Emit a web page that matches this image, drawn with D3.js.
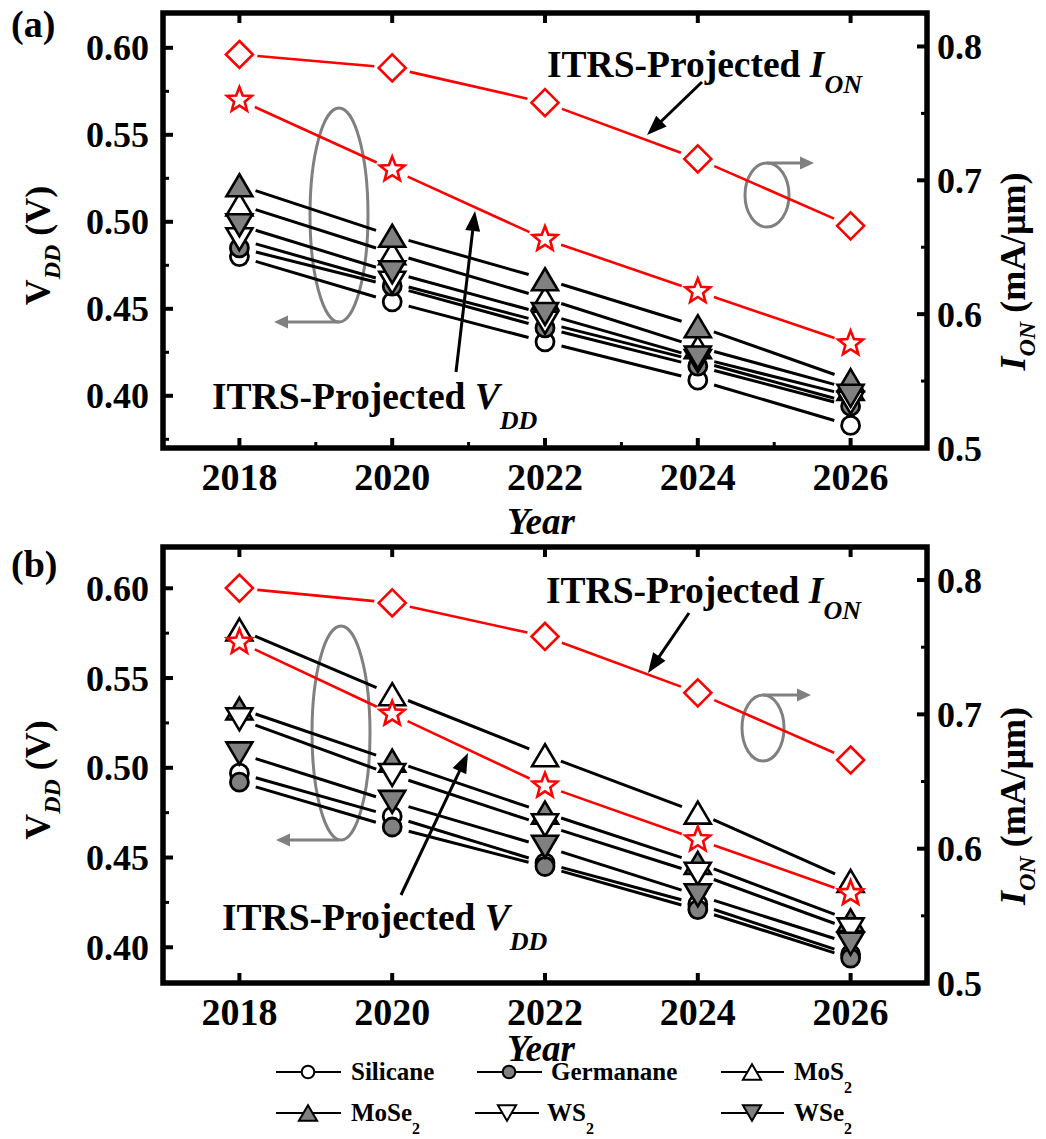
<!DOCTYPE html>
<html><head><meta charset="utf-8">
<script src="https://cdn.jsdelivr.net/npm/d3@7"></script>
<style>
body{margin:0;background:#fff}
svg{display:block}
svg text{font-family:"Liberation Serif","Times New Roman",Times,Tinos,"DejaVu Serif",serif;font-weight:bold;fill:#000}
</style>
</head><body>
<svg id="c" width="1046" height="1139" font-family="Liberation Serif, Times New Roman, DejaVu Serif, serif"></svg>
<script>
// ---------------- data ----------------
const years = [2018, 2020, 2022, 2024, 2026];
const xTickValues = [2018, 2020, 2022, 2024, 2026];
const xMinorValues = [2019, 2021, 2023, 2025];
const vddTickValues = [0.40, 0.45, 0.50, 0.55, 0.60];
const vddMinorValues = [0.375, 0.425, 0.475, 0.525, 0.575];
const ionTickValues = [0.5, 0.6, 0.7, 0.8];
const ionMinorValues = [0.55, 0.65, 0.75];
const materials = ["Silicane", "Germanane", "MoS2", "MoSe2", "WS2", "WSe2"];

// panel (a) V_DD (V)
const silicaneA  = [0.480, 0.454, 0.431, 0.409, 0.383];
const germananeA = [0.485, 0.463, 0.439, 0.417, 0.394];
const mos2A      = [0.510, 0.482, 0.456, 0.428, 0.404];
const mose2A     = [0.521, 0.492, 0.467, 0.440, 0.409];
const ws2A       = [0.490, 0.465, 0.442, 0.420, 0.396];
const wse2A      = [0.498, 0.471, 0.447, 0.422, 0.400];
const itrsVddA   = [0.570, 0.530, 0.490, 0.460, 0.430];
const itrsIonA   = [0.794, 0.784, 0.758, 0.716, 0.666];

// panel (b) V_DD (V)
const silicaneB  = [0.497, 0.473, 0.447, 0.424, 0.396];
const germananeB = [0.492, 0.467, 0.445, 0.421, 0.394];
const mos2B      = [0.577, 0.541, 0.507, 0.475, 0.437];
const mose2B     = [0.533, 0.504, 0.475, 0.447, 0.415];
const ws2B       = [0.527, 0.496, 0.468, 0.441, 0.410];
const wse2B      = [0.508, 0.481, 0.456, 0.429, 0.402];
const itrsVddB   = [0.570, 0.530, 0.490, 0.460, 0.430];
const itrsIonB   = [0.794, 0.783, 0.758, 0.716, 0.666];

// ---------------- styles ----------------
const FONT = '"Liberation Serif","Times New Roman",Times,Tinos,"DejaVu Serif",serif';
const GRAY = "#808080";
const RED = "#ff0000";
const matStyle = {
  Silicane:  {shape:"circle", fill:"#fff"},
  Germanane: {shape:"circle", fill:GRAY},
  MoS2:      {shape:"up",     fill:"#fff"},
  MoSe2:     {shape:"up",     fill:GRAY},
  WS2:       {shape:"down",   fill:"#fff"},
  WSe2:      {shape:"down",   fill:GRAY}
};
const legendLabels = {
  Silicane:["Silicane",""], Germanane:["Germanane",""], MoS2:["MoS","2"],
  MoSe2:["MoSe","2"], WS2:["WS","2"], WSe2:["WSe","2"]
};

const svg = d3.select("#c");
const x = d3.scaleLinear().domain([2017, 2027]).range([163, 927]);

function txt(g) {
  return g.append("text").style("font-family", FONT).style("font-weight", "bold");
}

function shapePath(shape, s) {
  if (shape === "up") {
    const w = 13*s, h = 11*s;
    return `M0,${-h}L${w},${h}L${-w},${h}Z`;
  }
  if (shape === "down") {
    const w = 13*s, h = 11*s;
    return `M0,${h}L${w},${-h}L${-w},${-h}Z`;
  }
  if (shape === "diamond") {
    const r = 13.5*s;
    return `M0,${-r}L${r},0L0,${r}L${-r},0Z`;
  }
  if (shape === "star") {
    const R = 13*s, r = 5.6*s;
    let d = "";
    for (let k = 0; k < 10; k++) {
      const a = -Math.PI/2 + k*Math.PI/5;
      const rr = k % 2 === 0 ? R : r;
      d += (k === 0 ? "M" : "L") + (rr*Math.cos(a)).toFixed(2) + "," + (rr*Math.sin(a)).toFixed(2);
    }
    return d + "Z";
  }
  const r = 9*s;
  return `M${r},0A${r},${r} 0 1,1 ${-r},0A${r},${r} 0 1,1 ${r},0Z`;
}

function drawSeries(g, vals, yScale, shape, fill, stroke, lw, gap) {
  const pts = vals.map((v,i) => [x(years[i]), yScale(v)]);
  for (let i = 0; i < pts.length-1; i++) {
    const [x1,y1] = pts[i], [x2,y2] = pts[i+1];
    const L = Math.hypot(x2-x1, y2-y1), ux = (x2-x1)/L, uy = (y2-y1)/L;
    g.append("line")
      .attr("x1", x1+ux*gap).attr("y1", y1+uy*gap)
      .attr("x2", x2-ux*gap).attr("y2", y2-uy*gap)
      .attr("stroke", stroke).attr("stroke-width", lw);
  }
  g.selectAll(null).data(pts).enter().append("path")
    .attr("transform", d => `translate(${d[0]},${d[1]})`)
    .attr("d", shapePath(shape, 1))
    .attr("fill", fill).attr("stroke", stroke).attr("stroke-width", shape==="circle"?2.8:2.6)
    .attr("stroke-linejoin", "miter");
}

function arrow(g, x1, y1, x2, y2, color, lw, hl, hw) {
  const L = Math.hypot(x2-x1, y2-y1), ux = (x2-x1)/L, uy = (y2-y1)/L;
  const bx = x2-ux*hl, by = y2-uy*hl;
  g.append("line").attr("x1",x1).attr("y1",y1).attr("x2",bx+ux*2).attr("y2",by+uy*2)
    .attr("stroke",color).attr("stroke-width",lw);
  g.append("path")
    .attr("d",`M${x2},${y2}L${bx-uy*hw/2},${by+ux*hw/2}L${bx+uy*hw/2},${by-ux*hw/2}Z`)
    .attr("fill",color);
}

function subText(g, xx, yy, parts, size, anchor, rotate) {
  const t = txt(g).attr("font-size", size).attr("text-anchor", anchor||"start");
  if (rotate) t.attr("transform", `translate(${xx},${yy}) rotate(-90)`);
  else t.attr("x", xx).attr("y", yy);
  let shift = 0;
  parts.forEach(p => {
    const ts = t.append("tspan").text(p.t);
    if (p.italic) ts.style("font-style","italic");
    if (p.size) ts.attr("font-size", p.size);
    const want = p.dy || 0;
    if (want !== shift) { ts.attr("dy", want - shift); shift = want; }
  });
  return t;
}

const panels = [
  {label:"(a)", labelY:37, top:13, bottom:448, vddDomain:[0.370,0.620], ionDomain:[0.5,0.825],
   data:{Silicane:silicaneA, Germanane:germananeA, MoS2:mos2A, MoSe2:mose2A, WS2:ws2A, WSe2:wse2A},
   vdd:itrsVddA, ion:itrsIonA, minorX:true,
   ionText:[547,77], vddText:[212,409],
   ionArrow:[702,82,647,135], vddArrow:[456,372,475,211],
   lEll:[339,215,29,107], lArrow:[339,322,274],
   rEll:[767,195,22,32], rArrow:[767,163,814],
   yearY:534},
  {label:"(b)", labelY:577, top:547, bottom:983, vddDomain:[0.3801,0.623], ionDomain:[0.5,0.8246],
   data:{Silicane:silicaneB, Germanane:germananeB, MoS2:mos2B, MoSe2:mose2B, WS2:ws2B, WSe2:wse2B},
   vdd:itrsVddB, ion:itrsIonB, minorX:false,
   ionText:[546,603], vddText:[222,930],
   ionArrow:[689,613,648,673], vddArrow:[401,895,468,753],
   lEll:[341,733,29,107], lArrow:[339,840,276],
   rEll:[763,728,21,33], rArrow:[763,695,811],
   yearY:1061}
];

panels.forEach(P => {
  const g = svg.append("g");
  const yL = d3.scaleLinear().domain(P.vddDomain).range([P.bottom, P.top]);
  const yR = d3.scaleLinear().domain(P.ionDomain).range([P.bottom, P.top]);
  const L = 163, R = 927;

  // ticks
  const tk = g.append("g").attr("stroke","#000");
  xTickValues.forEach(v => {
    tk.append("line").attr("x1",x(v)).attr("x2",x(v)).attr("y1",P.bottom).attr("y2",P.bottom-10).attr("stroke-width",4);
    tk.append("line").attr("x1",x(v)).attr("x2",x(v)).attr("y1",P.top).attr("y2",P.top+10).attr("stroke-width",4);
  });
  if (P.minorX) xMinorValues.forEach(v => {
    tk.append("line").attr("x1",x(v)).attr("x2",x(v)).attr("y1",P.bottom).attr("y2",P.bottom-6).attr("stroke-width",3);
  });
  vddTickValues.forEach(v => {
    tk.append("line").attr("x1",L).attr("x2",L+10).attr("y1",yL(v)).attr("y2",yL(v)).attr("stroke-width",4);
  });
  vddMinorValues.filter(v => v > P.vddDomain[0] && v < P.vddDomain[1]).forEach(v => {
    tk.append("line").attr("x1",L).attr("x2",L+6).attr("y1",yL(v)).attr("y2",yL(v)).attr("stroke-width",3);
  });
  ionTickValues.forEach(v => {
    tk.append("line").attr("x1",R).attr("x2",R-10).attr("y1",yR(v)).attr("y2",yR(v)).attr("stroke-width",4);
  });
  ionMinorValues.forEach(v => {
    tk.append("line").attr("x1",R).attr("x2",R-6).attr("y1",yR(v)).attr("y2",yR(v)).attr("stroke-width",3);
  });

  // tick labels
  xTickValues.forEach(v => txt(g).attr("x",x(v)).attr("y",P.bottom+42)
    .attr("text-anchor","middle").attr("font-size",38).text(v));
  vddTickValues.forEach(v => txt(g).attr("x",149).attr("y",yL(v)).attr("dy","0.35em")
    .attr("text-anchor","end").attr("font-size",36).text(d3.format(".2f")(v)));
  ionTickValues.forEach(v => txt(g).attr("x",937).attr("y",yR(v)).attr("dy","0.35em")
    .attr("text-anchor","start").attr("font-size",36).text(d3.format(".1f")(v)));

  // axis titles
  subText(g, 50, (P.top+P.bottom)/2+15, [{t:"V"},{t:"DD",italic:true,size:24,dy:10},{t:" (V)",dy:0}], 36, "middle", true);
  subText(g, 1025, (P.top+P.bottom)/2+41, [{t:"I",italic:true},{t:"ON",italic:true,size:24,dy:10},{t:" (mA/μm)",dy:0}], 36, "middle", true);
  txt(g).attr("x",541).attr("y",P.yearY).attr("text-anchor","middle")
    .attr("font-size",37).style("font-style","italic").text("Year");
  txt(g).attr("x",11).attr("y",P.labelY).attr("font-size",38).text(P.label);

  // gray annotations
  const ga = g.append("g");
  ga.append("ellipse").attr("cx",P.lEll[0]).attr("cy",P.lEll[1]).attr("rx",P.lEll[2]).attr("ry",P.lEll[3])
    .attr("fill","none").attr("stroke",GRAY).attr("stroke-width",3);
  arrow(ga, P.lArrow[0], P.lArrow[1], P.lArrow[2], P.lArrow[1], GRAY, 3, 14, 13);
  ga.append("ellipse").attr("cx",P.rEll[0]).attr("cy",P.rEll[1]).attr("rx",P.rEll[2]).attr("ry",P.rEll[3])
    .attr("fill","none").attr("stroke",GRAY).attr("stroke-width",3);
  arrow(ga, P.rArrow[0], P.rArrow[1], P.rArrow[2], P.rArrow[1], GRAY, 3, 14, 13);

  // data series
  materials.forEach(m => {
    drawSeries(g, P.data[m], yL, matStyle[m].shape, matStyle[m].fill, "#000", 3, 17);
  });
  drawSeries(g, P.vdd, yL, "star", "#fff", RED, 2.6, 17);
  drawSeries(g, P.ion, yR, "diamond", "#fff", RED, 2.6, 18);

  // black arrows and texts
  arrow(g, P.ionArrow[0], P.ionArrow[1], P.ionArrow[2], P.ionArrow[3], "#000", 3, 20, 15);
  arrow(g, P.vddArrow[0], P.vddArrow[1], P.vddArrow[2], P.vddArrow[3], "#000", 3, 20, 15);
  subText(g, P.ionText[0], P.ionText[1], [{t:"ITRS-Projected "},{t:"I",italic:true},{t:"ON",italic:true,size:26,dy:16}], 37.5, "start");
  subText(g, P.vddText[0], P.vddText[1], [{t:"ITRS-Projected "},{t:"V",italic:true},{t:"DD",italic:true,size:26,dy:20}], 37.5, "start");

  // frame
  g.append("rect").attr("x",L).attr("y",P.top).attr("width",R-L).attr("height",P.bottom-P.top)
    .attr("fill","none").attr("stroke","#000").attr("stroke-width",5.5);
});

// ---------------- legend ----------------
const legendLayout = [
  {m:"Silicane",  x0:276, cx:308, x1:341, tx:351, y:1072},
  {m:"Germanane", x0:477, cx:509, x1:542, tx:551, y:1072},
  {m:"MoS2",      x0:721, cx:752, x1:784, tx:794, y:1072},
  {m:"MoSe2",     x0:276, cx:308, x1:341, tx:351, y:1113},
  {m:"WS2",       x0:475, cx:507, x1:539, tx:547, y:1113},
  {m:"WSe2",      x0:721, cx:752, x1:784, tx:794, y:1113}
];
const lg = svg.append("g");
legendLayout.forEach(it => {
  lg.append("line").attr("x1",it.x0).attr("x2",it.x1).attr("y1",it.y).attr("y2",it.y)
    .attr("stroke","#000").attr("stroke-width",2.2);
  lg.append("path").attr("transform",`translate(${it.cx},${it.y})`)
    .attr("d", shapePath(matStyle[it.m].shape, 0.7))
    .attr("fill", matStyle[it.m].fill).attr("stroke","#000").attr("stroke-width",2);
  const lab = legendLabels[it.m];
  const t = txt(lg).attr("x",it.tx).attr("y",it.y+8).attr("font-size",25);
  t.append("tspan").text(lab[0]);
  if (lab[1]) t.append("tspan").attr("font-size",16).attr("dy",13).text(lab[1]);
});
</script>
</body></html>
